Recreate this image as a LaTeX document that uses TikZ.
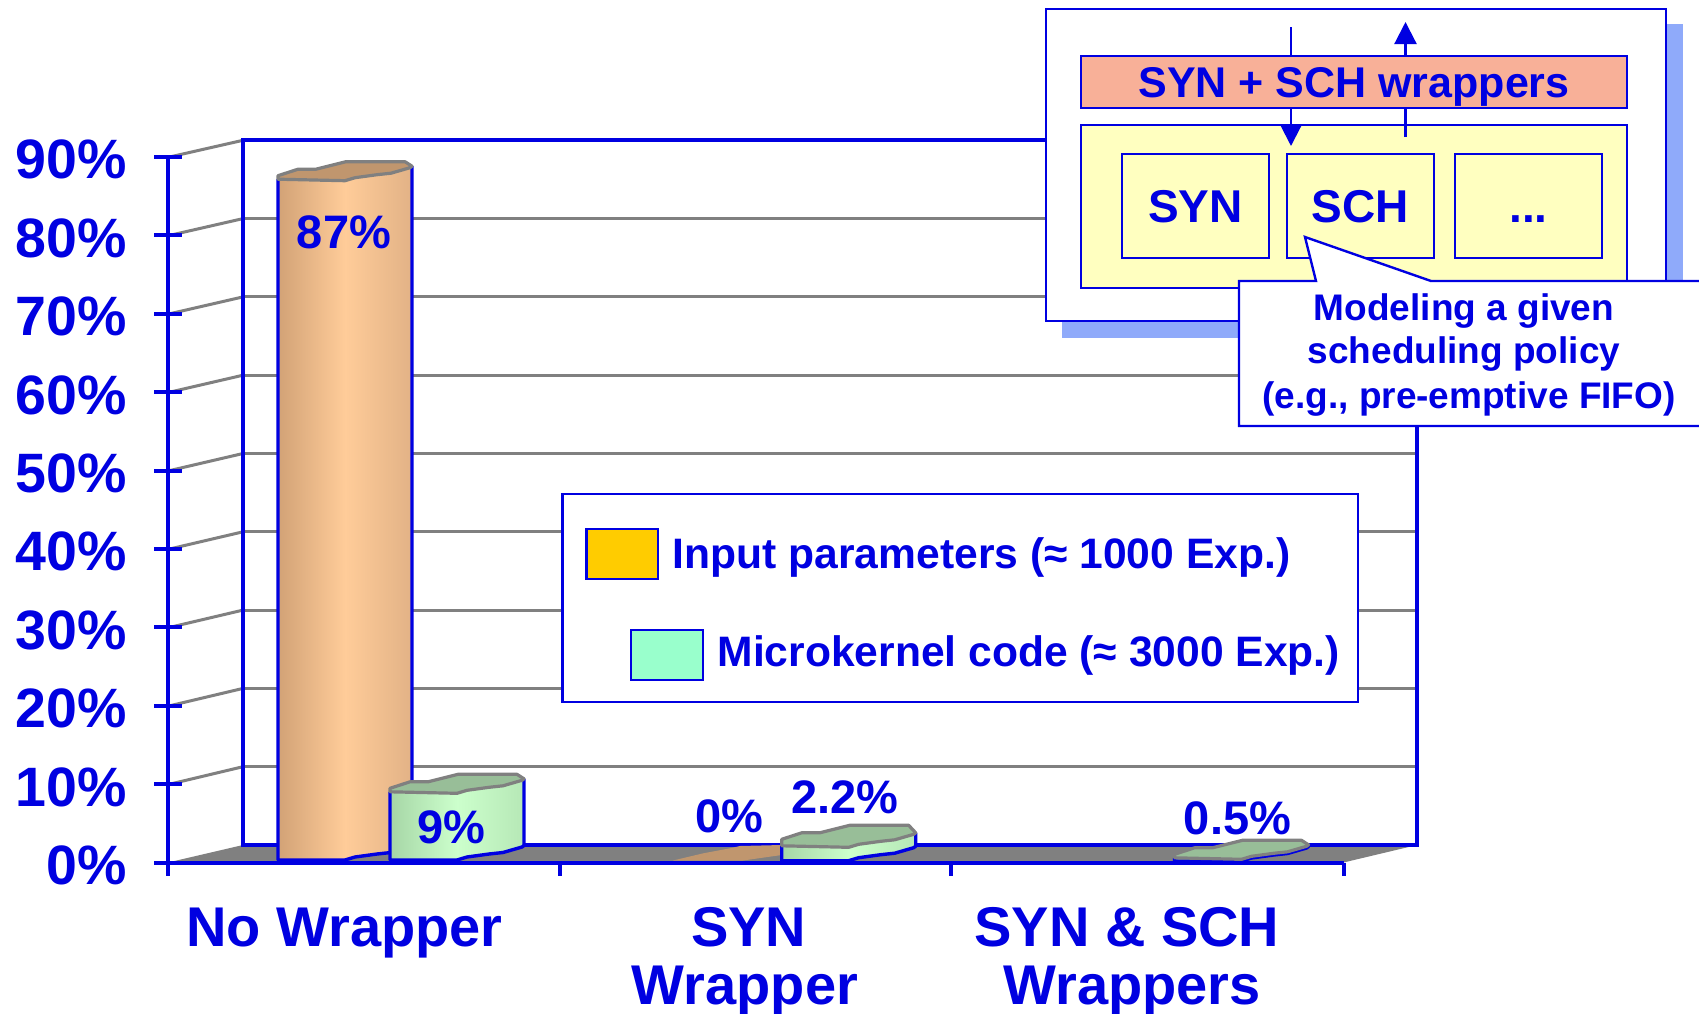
\documentclass[tikz,border=0pt]{standalone}
\usepackage{fontspec}
\setmainfont{Liberation Sans}
\usetikzlibrary{arrows.meta}

\definecolor{cblue}{RGB}{0,0,225}
\definecolor{gridgrey}{RGB}{128,128,128}
\definecolor{floorgrey}{RGB}{128,128,128}
\definecolor{rimgrey}{RGB}{128,128,128}
\definecolor{orL}{RGB}{210,162,118}
\definecolor{orM}{RGB}{255,204,153}
\definecolor{orR}{RGB}{226,178,134}
\definecolor{orTop}{RGB}{192,150,110}
\definecolor{grL}{RGB}{166,214,166}
\definecolor{grM}{RGB}{204,255,204}
\definecolor{grR}{RGB}{182,232,182}
\definecolor{grTop}{RGB}{152,190,152}
\definecolor{swOrange}{RGB}{255,204,0}
\definecolor{swGreen}{RGB}{153,255,204}
\definecolor{salmon}{RGB}{248,176,152}
\definecolor{paleyellow}{RGB}{255,255,192}
\definecolor{shadowblue}{RGB}{143,170,250}

% A 3-D bar with an irregular cross-section.
% #1 left x, #2 front top y, #3 front bottom y, #4 front shading, #5 top colour, #6 extra depth
\newcommand\prism[6]{%
  \begin{scope}[shift={(#1,0)}]
    \path[#4] (0,#2-1.5) -- (67,#2) -- (77,#2-3) -- (99,#2-6) -- (113,#2-7.5) -- (132,#2-13) -- (134,#2-14.5)
      -- (134,#3-14.5) -- (132,#3-13) -- (113,#3-7.5) -- (99,#3-6) -- (77,#3-3) -- (67,#3) -- (0,#3) -- cycle;
    \draw[edge] (0,#2-1.5) -- (0,#3) -- (67,#3) -- (77,#3-3) -- (99,#3-6) -- (113,#3-7.5) -- (132,#3-13)
      -- (134,#3-14.5) -- (134,#2-14.5);
    \filldraw[fill=#5, draw=rimgrey, line width=1.6pt, line join=round]
      (0,#2-1.5) -- (67,#2) -- (77,#2-3) -- (99,#2-6) -- (113,#2-7.5) -- (132,#2-13) -- (134,#2-14.5)
      -- (127,#2-19-#6) -- (68,#2-19-#6) -- (38,#2-11.5-#6) -- (20,#2-11.5-#6) -- (0,#2-5-#6) -- cycle;
  \end{scope}}

\begin{document}
\begin{tikzpicture}[x=0.5pt,y=-0.5pt,
  wall/.style={draw=cblue, line width=2pt},
  grid/.style={draw=gridgrey, line width=1.5pt},
  axisline/.style={draw=cblue, line width=2pt},
  edge/.style={draw=cblue, line width=1.7pt, line join=round},
  ylab/.style={text=cblue, inner sep=0pt, anchor=base east, font={\fontsize{27.75}{30}\selectfont\bfseries}},
  catlab/.style={text=cblue, inner sep=0pt, anchor=base, font={\fontsize{28}{30}\selectfont\bfseries}},
  vallab/.style={text=cblue, inner sep=0pt, anchor=base, font={\fontsize{23.5}{26}\selectfont\bfseries}},
  leglab/.style={text=cblue, inner sep=0pt, anchor=base west, font={\fontsize{21.3}{24}\selectfont\bfseries}},
  swatch/.style={draw=cblue, line width=1.1pt, minimum width=35.9pt, minimum height=25pt, inner sep=0pt},
  thinbox/.style={draw=cblue, line width=1.2pt, inner sep=0pt},
  boxlab/.style={thinbox, fill=paleyellow, minimum width=73.5pt, minimum height=52pt, text=cblue,
    text height=16.5pt, text depth=0pt, font={\fontsize{23}{25}\selectfont\bfseries}},
  notelab/.style={text=cblue, inner sep=0pt, anchor=base, font={\fontsize{18.5}{22}\selectfont\bfseries}},
  arr/.style={draw=cblue, line width=1.1pt, -{Triangle[width=11pt,length=11pt]}}
]
\useasboundingbox (0,0) rectangle (1699,1013);
\fill[white] (0,0) rectangle (1699,1013);

% ---- chart: back wall, grid, floor ----
\fill[white] (243,140) rectangle (1417,845);
\foreach \k in {1,...,8}
  \draw[grid] (243,{845-78.3*\k}) -- (1417,{845-78.3*\k});
\foreach \k in {1,...,9}
  \draw[grid] (170,{862.5-78.4*\k}) -- (243,{845-78.3*\k});
\fill[floorgrey] (168,862.5) -- (1343.5,862.5) -- (1417,845) -- (243,845) -- cycle;
\draw[wall] (243,140) rectangle (1417,845);

% ---- value axis ----
\draw[axisline] (168,156) -- (168,876);
\foreach \k in {0,...,9}
  \draw[axisline] (154,{862.5-78.4*\k}) -- (182,{862.5-78.4*\k});
\draw[axisline] (154,862.5) -- (1343.5,862.5);
\foreach \x in {560,951,1343.5}
  \draw[axisline] (\x,862.5) -- (\x,876);
\foreach \k in {0,...,9}{
  \pgfmathtruncatemacro\pc{10*\k}
  \node[ylab] (ylab\k) at (127,{862.5-78.4*\k+22}) {\pc\%};
}

% ---- category labels ----
\node[catlab] (catA)  at (344.5,946)  {No Wrapper};
\node[catlab] (catB1) at (748.8,946)  {SYN};
\node[catlab] (catB2) at (745,1004.3) {Wrapper};
\node[catlab] (catC1) at (1127,946)   {SYN \& SCH};
\node[catlab] (catC2) at (1132,1004.3) {Wrappers};

% ---- bars ----
\prism{278}{180.7}{860}{left color=orL, right color=orR, middle color=orM}{orTop}{0}
\prism{390}{793.3}{860}{left color=grL, right color=grR, middle color=grM}{grTop}{0}
\fill[orTop] (673,860.5) -- (743,860.5) -- (781.7,855) -- (781.7,845) -- (740,846) -- (730,848.3) -- (703.3,853.3) -- cycle;
\prism{781.7}{847.3}{860.7}{left color=grL, right color=grR, middle color=grM}{grTop}{3}
\prism{1174.5}{859.3}{861}{left color=grL, right color=grR, middle color=grM}{grTop}{0}

\node[vallab] (v87)  at (344,248.5)   {87\%};
\node[vallab] (v9)   at (451.7,843.5) {9\%};
\node[vallab] (v0)   at (729,832.8)   {0\%};
\node[vallab] (v22)  at (845,813.5)   {2.2\%};
\node[vallab] (v05)  at (1237.5,834.8) {0.5\%};

% ---- legend ----
\node[thinbox, fill=white, minimum width=397.85pt, minimum height=103.85pt] (legend) at (960.15,597.85) {};
\node[swatch, fill=swOrange] (swA) at (622.4,554.3) {};
\node[swatch, fill=swGreen]  (swB) at (667,655) {};
\node[leglab] (legA) at (672.3,568.3) {Input parameters (≈ 1000 Exp.)};
\node[leglab] (legB) at (717.2,666.7) {Microkernel code (≈ 3000 Exp.)};

% ---- wrapper inset ----
\fill[shadowblue] (1062,24) rectangle (1683,338);
\node[thinbox, fill=white, minimum width=310pt, minimum height=156pt] (panel) at (1356,165) {};
\node[thinbox, fill=paleyellow, minimum width=273pt, minimum height=81.5pt] (kernel) at (1354,206.5) {};
\coordinate (inTop)  at (1291,27);
\coordinate (inTip)  at (1291,146);
\coordinate (outBot) at (1405.5,137);
\coordinate (outTip) at (1405.5,22);
\draw[arr] (inTop) -- (inTip);
\draw[arr] (outBot) -- (outTip);
\node[thinbox, fill=salmon, minimum width=273pt, minimum height=26pt, text=cblue,
      text height=15.4pt, text depth=0pt, font={\fontsize{21.5}{24}\selectfont\bfseries}]
      (wrap) at (1354,82) {SYN + SCH wrappers};
\node[boxlab] (syn) at (1195.5,206) {SYN};
\node[boxlab] (sch) at (1360.5,206) {SCH};
\node[boxlab] (etc) at (1528.5,206) {...};

% ---- callout ----
\filldraw[fill=white, draw=cblue, line width=1.2pt, line join=miter]
  (1239,281) -- (1316,281) -- (1305,237) -- (1431,281) -- (1710,281) -- (1710,426) -- (1239,426) -- cycle;
\node[notelab] (note1) at (1464,320)   {Modeling a given};
\node[notelab] (note2) at (1464,363.3) {scheduling policy};
\node[notelab] (note3) at (1469,408.3) {(e.g., pre-emptive FIFO)};
\end{tikzpicture}
\end{document}
